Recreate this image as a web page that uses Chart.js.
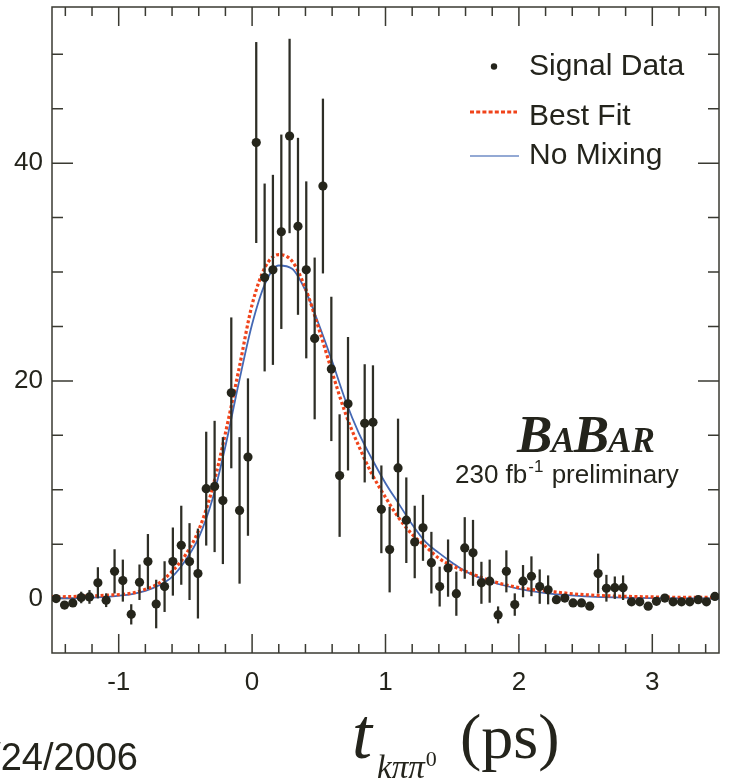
<!DOCTYPE html>
<html><head><meta charset="utf-8">
<script src="https://cdn.jsdelivr.net/npm/chart.js@4/dist/chart.umd.min.js"></script>
<style>html,body{margin:0;padding:0;background:#fff;}#wrap{position:relative;width:729px;height:782px;}canvas{display:block;}</style>
</head><body><div id="wrap"><canvas id="c" width="729" height="782"></canvas></div>
<script>
// ---- data ----
const binCenters = [-1.469,-1.406,-1.344,-1.281,-1.219,-1.156,-1.094,-1.031,-0.969,-0.906,
  -0.844,-0.781,-0.719,-0.656,-0.594,-0.531,-0.469,-0.406,-0.344,-0.281,
  -0.219,-0.156,-0.094,-0.031,0.031,0.094,0.156,0.219,0.281,0.344,
  0.406,0.469,0.531,0.594,0.656,0.719,0.781,0.844,0.906,0.969,
  1.031,1.094,1.156,1.219,1.281,1.344,1.406,1.469,1.531,1.594,
  1.656,1.719,1.781,1.844,1.906,1.969,2.031,2.094,2.156,2.219,
  2.281,2.344,2.406,2.469,2.531,2.594,2.656,2.719,2.781,2.844,
  2.906,2.969,3.031,3.094,3.156,3.219,3.281,3.344,3.406,3.469];
const signalValues = [0.0,-0.6,-0.4,0.1,0.15,1.45,-0.15,2.5,1.65,-1.45,
  1.5,3.4,-0.5,1.1,3.4,4.9,3.4,2.3,10.1,10.3,
  9.0,18.9,8.1,13.0,41.9,29.5,30.2,33.7,42.5,34.2,
  30.2,23.9,37.9,21.1,11.3,17.9,null,16.1,16.2,8.2,
  4.5,12.0,7.2,5.2,6.5,3.3,1.1,2.8,0.45,4.65,
  4.2,1.45,1.6,-1.5,2.5,-0.55,1.6,2.05,1.1,0.8,
  -0.1,0.05,-0.4,-0.4,-0.7,2.3,0.95,1.0,1.0,-0.3,
  -0.3,-0.7,-0.25,0.05,-0.3,-0.3,-0.3,-0.1,-0.3,0.2];
const signalErrors = [0.3,0.3,0.3,0.5,0.6,1.4,0.6,2.0,1.9,0.9,
  1.6,2.5,2.2,2.3,3.1,3.6,3.5,4.1,5.2,6.0,
  5.8,6.9,6.7,7.2,9.2,8.6,8.7,8.9,8.9,8.1,
  8.1,7.4,8.0,6.6,5.6,6.1,0,5.4,5.2,4.0,
  3.9,4.5,3.9,3.3,3.0,2.8,1.8,2.6,2.0,2.8,
  3.0,1.9,1.95,0.75,1.9,1.0,1.45,1.8,1.55,1.3,
  0.3,0.3,0.3,0.3,0.3,1.8,1.2,1.0,1.1,0.3,
  0.3,0.3,0.3,0.3,0.3,0.3,0.3,0.3,0.3,0.3];
const curveT = [-1.5,-1.3,-1.1,-0.9,-0.8,-0.7,-0.6,-0.5,-0.4,-0.3,-0.2,-0.1,0.0,0.1,0.2,0.3,0.4,0.5,0.6,0.7,0.8,0.9,1.0,1.1,1.2,1.3,1.4,1.5,1.6,1.8,2.0,2.2,2.5,3.0,3.5];
const bestFitValues = [0.15,0.2,0.3,0.5,0.85,1.4,2.5,4.0,6.3,10.0,15.2,21.0,27.0,30.5,31.6,31.0,28.5,24.8,20.8,17.0,14.0,11.4,9.3,7.4,5.9,4.8,3.7,3.0,2.5,1.6,1.0,0.7,0.35,0.15,0.1];
const noMixingValues = [0.05,0.05,0.15,0.4,0.7,1.2,2.0,3.5,5.6,9.0,14.0,19.8,25.2,29.0,30.6,30.3,28.3,25.2,21.8,18.2,15.2,12.8,10.6,8.7,6.8,5.2,4.2,3.3,2.5,1.5,0.9,0.5,0.2,0.05,0.0];
const xTickLabels = [-1,0,1,2,3];
const yTickLabels = [0,20,40];
const xMinorTicks = [-1.4,-1.2,-0.8,-0.6,-0.4,-0.2,0.2,0.4,0.6,0.8,1.2,1.4,1.6,1.8,2.2,2.4,2.6,2.8,3.2,3.4];
const yMinorTicks = [5,10,15,25,30,35,45,50];
const legendLabels = ['Signal Data','Best Fit','No Mixing'];

// ---- build ----
const pts = [], bars = [];
binCenters.forEach((t,i)=>{
  const v = signalValues[i];
  if (v === null) return;
  pts.push({x:t, y:v});
  bars.push({x:t, y:[v - signalErrors[i], v + signalErrors[i]]});
});
const fitData = curveT.map((t,i)=>({x:t, y:bestFitValues[i]}));
const noMixData = curveT.map((t,i)=>({x:t, y:noMixingValues[i]}));

const TXT = '#24241c';
const frame = {
  id:'frame',
  beforeDatasetsDraw(chart){
    const {ctx, chartArea:a, scales:{x,y}} = chart;
    ctx.save();
    ctx.strokeStyle = '#3a3a32';
    ctx.lineWidth = 1.5;
    ctx.strokeRect(a.left, a.top, a.right-a.left, a.bottom-a.top);
    ctx.beginPath();
    const xt = (v,len)=>{const p=x.getPixelForValue(v); ctx.moveTo(p,a.bottom); ctx.lineTo(p,a.bottom-len); ctx.moveTo(p,a.top); ctx.lineTo(p,a.top+len);};
    const yt = (v,len)=>{const p=y.getPixelForValue(v); ctx.moveTo(a.left,p); ctx.lineTo(a.left+len,p); ctx.moveTo(a.right,p); ctx.lineTo(a.right-len,p);};
    xTickLabels.forEach(v=>xt(v,19));
    xMinorTicks.forEach(v=>xt(v,9));
    yTickLabels.forEach(v=>yt(v,21));
    yMinorTicks.forEach(v=>yt(v,11));
    ctx.stroke();
    ctx.restore();
  }
};
const annot = {
  id:'annot',
  afterDraw(chart){
    const ctx = chart.ctx;
    ctx.save();
    ctx.fillStyle = TXT;
    // legend
    ctx.beginPath(); ctx.arc(494,66.5,3.2,0,Math.PI*2); ctx.fill();
    ctx.strokeStyle = '#f0431a'; ctx.lineWidth = 3; ctx.setLineDash([4,2.2]);
    ctx.beginPath(); ctx.moveTo(470,112); ctx.lineTo(517,112); ctx.stroke();
    ctx.setLineDash([]); ctx.strokeStyle = '#6f8cc6'; ctx.lineWidth = 1.5;
    ctx.beginPath(); ctx.moveTo(470,156); ctx.lineTo(519,156); ctx.stroke();
    ctx.font = '30px "Liberation Sans", Arial, sans-serif';
    ctx.textBaseline = 'alphabetic'; ctx.textAlign = 'left';
    ctx.fillText(legendLabels[0],529,75);
    ctx.fillText(legendLabels[1],529,125);
    ctx.fillText(legendLabels[2],529,164);
    // BaBar logo
    let bx = 517;
    const big = 'italic bold 53px "Liberation Serif", serif', sm = 'italic bold 35px "Liberation Serif", serif';
    [['B',big],['A',sm],['B',big],['AR',sm]].forEach(([s,f])=>{ctx.font=f; ctx.fillText(s,bx,452); bx += ctx.measureText(s).width - 1;});
    // luminosity
    let lx = 455;
    ctx.font = '26px "Liberation Sans", Arial, sans-serif';
    ctx.fillText('230 fb',lx,483); lx += ctx.measureText('230 fb').width + 1;
    ctx.font = '17px "Liberation Sans", Arial, sans-serif';
    ctx.fillText('-1',lx,472); lx += ctx.measureText('-1').width + 1;
    ctx.font = '26px "Liberation Sans", Arial, sans-serif';
    ctx.fillText(' preliminary',lx,483);
    // axis title
    ctx.font = 'italic 72px "Liberation Serif", serif';
    ctx.fillText('t',352,758);
    ctx.font = 'italic 33px "Liberation Serif", serif';
    ctx.fillText('k\u03C0\u03C0',377,778);
    let sx = 377 + ctx.measureText('k\u03C0\u03C0').width + 1;
    ctx.font = '22px "Liberation Serif", serif';
    ctx.fillText('0',sx,766);
    ctx.font = '64px "Liberation Serif", serif';
    ctx.fillText('(ps)',460,758);
    // date
    ctx.font = '38px "Liberation Sans", Arial, sans-serif';
    ctx.textAlign = 'right';
    ctx.fillText('5/24/2006',138,770);
    ctx.restore();
  }
};

new Chart(document.getElementById('c').getContext('2d'), {
  type:'scatter',
  data:{datasets:[
    {type:'scatter', label:legendLabels[0], data:pts, pointRadius:4.6, pointHoverRadius:4.6, backgroundColor:'#25251b', borderColor:'#25251b', borderWidth:0, order:0},
    {type:'bar', label:'errors', data:bars, backgroundColor:'#2e2e26', borderWidth:0, barThickness:1.6, grouped:false, order:1},
    {type:'line', label:legendLabels[1], data:fitData, borderColor:'#f0431a', borderWidth:3.2, borderDash:[3,2.4], pointRadius:0, cubicInterpolationMode:'monotone', fill:false, order:2},
    {type:'line', label:legendLabels[2], data:noMixData, borderColor:'#4468b4', borderWidth:1.8, pointRadius:0, cubicInterpolationMode:'monotone', fill:false, order:3}
  ]},
  options:{
    responsive:false, animation:false,
    layout:{padding:{left:0, top:7, right:10, bottom:782-653-60}},
    plugins:{legend:{display:false}, tooltip:{enabled:false}},
    scales:{
      x:{type:'linear', min:-1.5, max:3.5, offset:false, grid:{display:false, drawTicks:false}, border:{display:false},
        afterBuildTicks:s=>{s.ticks = xTickLabels.map(v=>({value:v}));},
        afterFit:s=>{s.height = 60; s.paddingLeft = 0; s.paddingRight = 0;},
        ticks:{font:{family:'"Liberation Sans", Arial, sans-serif', size:26}, color:TXT, padding:14, maxRotation:0, autoSkip:false}},
      y:{type:'linear', min:-5, max:54.35, grid:{display:false, drawTicks:false}, border:{display:false},
        afterBuildTicks:s=>{s.ticks = yTickLabels.map(v=>({value:v}));},
        afterFit:s=>{s.width = 52; s.paddingTop = 0; s.paddingBottom = 0;},
        ticks:{font:{family:'"Liberation Sans", Arial, sans-serif', size:26}, color:TXT, padding:9, autoSkip:false}}
    }
  },
  plugins:[frame, annot]
});
</script></body></html>
